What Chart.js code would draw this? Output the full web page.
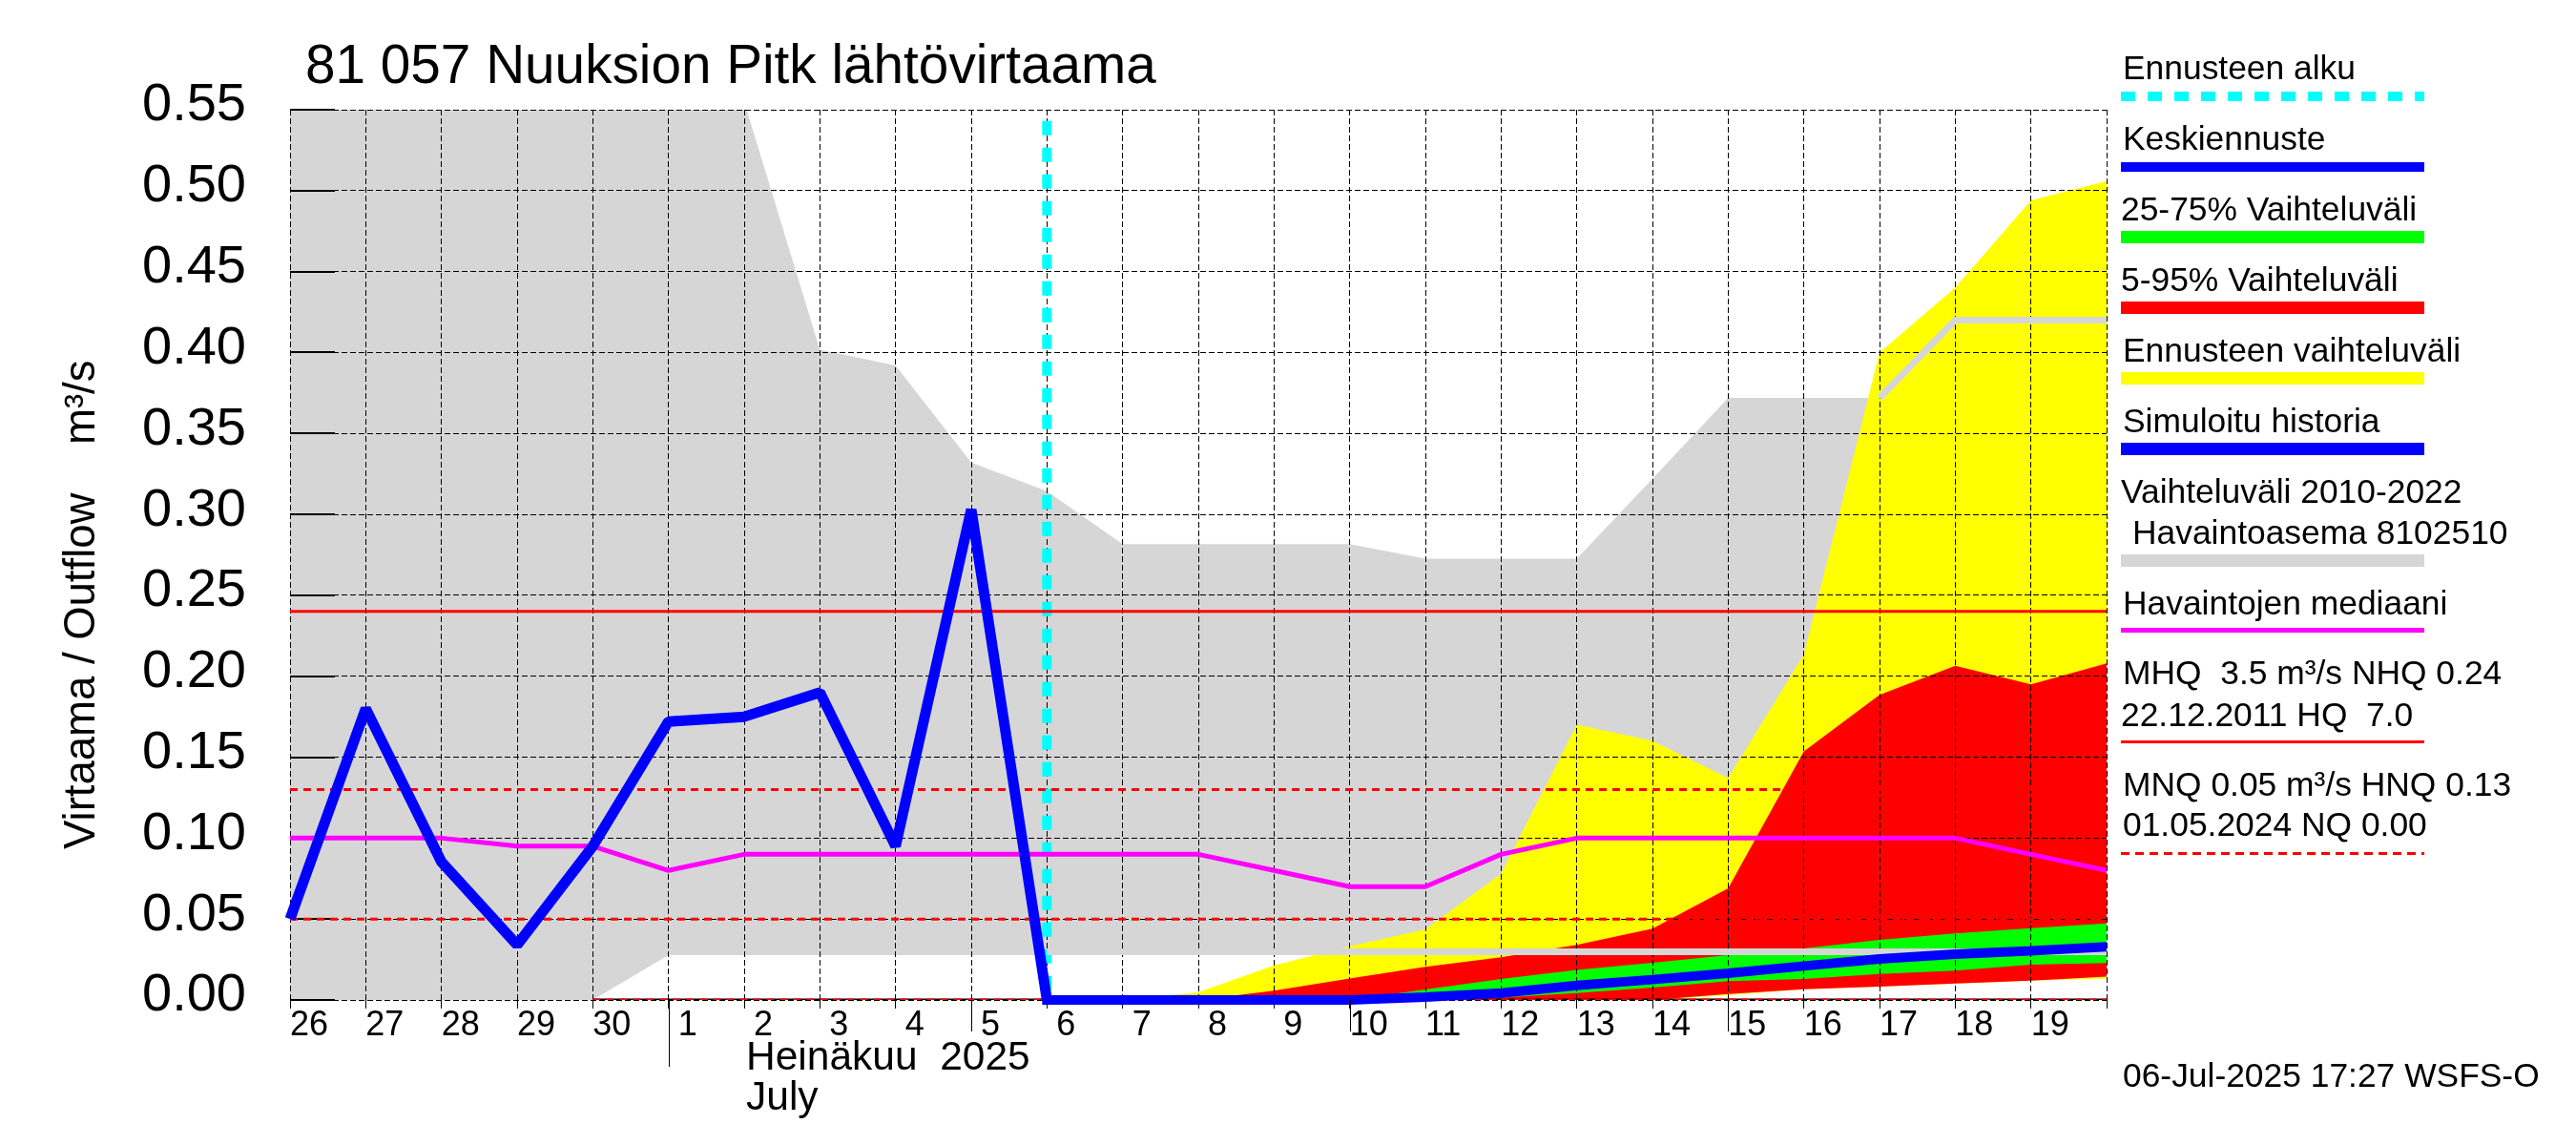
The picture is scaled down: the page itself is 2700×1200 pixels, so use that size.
<!DOCTYPE html>
<html><head><meta charset="utf-8">
<style>html,body{margin:0;padding:0;background:#fff}canvas{display:block}</style>
<script src="https://cdn.jsdelivr.net/npm/chart.js@4"></script>
</head><body><canvas id="c" width="2700" height="1200" style="width:2700px;height:1200px"></canvas>
<script>
const days=['26','27','28','29','30','1','2','3','4','5','6','7','8','9','10','11','12','13','14','15','16','17','18','19',''];
const yTicks=[0,0.05,0.10,0.15,0.20,0.25,0.30,0.35,0.40,0.45,0.50,0.55];
const titleText='81 057 Nuuksion Pitk lähtövirtaama';
const yTitle='Virtaama / Outflow    m³/s';
const monthLines=['Heinäkuu  2025','July'];
const stamp='06-Jul-2025 17:27 WSFS-O';
const rangeUpper=[.56,.56,.56,.56,.56,.56,.555,.4017,.392,.332,.3143,.2817,.2817,.2817,.2817,.2727,.2727,.2727,.322,.372,.372,.372,.42,.42,.42];
const rangeLower=[0,0,0,0,0,.0277,.0277,.0277,.0277,.0277,.0277,.0277,.0277,.0277,.0277,.0277,.0277,.0277,.0277,.0277,.0277,.0277,.0277,.0277,.0277];
const rangeUpperEdge=[null,null,null,null,null,null,null,null,null,null,null,null,null,null,null,null,null,null,null,null,null,.372,.42,.42,.42];
const rangeLowerEdge=[null,null,null,null,null,null,null,null,null,null,.0298,.0298,.0298,.0298,.0298,.0298,.0298,.0298,.0298,.0298,.0298,.0298,.0298,.0298,.0298];
const yellowUpper=[null,null,null,null,null,null,null,null,null,null,null,0,.0047,.0214,.0332,.0436,.078,.170,.160,.137,.2134,.40,.44,.494,.506];
const yellowLower=[null,null,null,null,null,null,null,null,null,null,null,0,0,0,0,0,0,0,0,.003,.0067,.0083,.0102,.012,.0132];
const redUpper=[null,null,null,null,null,null,null,null,null,null,null,null,0,.0057,.0132,.0205,.0264,.034,.044,.069,.1535,.1885,.2065,.195,.208];
const redLower=[null,null,null,null,null,null,null,null,null,null,null,null,0,0,0,0,0,0,0,.0037,.0067,.0083,.0102,.012,.0145];
const greenUpper=[null,null,null,null,null,null,null,null,null,null,null,null,null,null,0,.0065,.013,.0185,.023,.0277,.0318,.0371,.0411,.0444,.0473];
const greenLower=[null,null,null,null,null,null,null,null,null,null,null,null,null,null,0,0,.0015,.0043,.0077,.0116,.013,.016,.0181,.0218,.0228];
const history=[.05,.18,.0853,.034,.095,.172,.175,.19,.095,.303,0,null,null,null,null,null,null,null,null,null,null,null,null,null,null];
const forecast=[null,null,null,null,null,null,null,null,null,null,0,0,0,0,0,.0018,.0043,.009,.0126,.0165,.021,.0254,.0283,.0303,.0328];
const median=[.10,.10,.10,.095,.095,.08,.09,.09,.09,.09,.09,.09,.09,.08,.07,.07,.09,.10,.10,.10,.10,.10,.10,.09,.08];
const legendRows=[
 {lines:[['Ennusteen alku',2225,83]],color:'#00ffff',y:96,h:10,dash:[15,13]},
 {lines:[['Keskiennuste',2225,157]],color:'#0000ff',y:170,h:10},
 {lines:[['25-75% Vaihteluväli',2223,231]],color:'#00ff00',y:242,h:13},
 {lines:[['5-95% Vaihteluväli',2223,305]],color:'#ff0000',y:316,h:13},
 {lines:[['Ennusteen vaihteluväli',2225,379]],color:'#ffff00',y:390,h:13},
 {lines:[['Simuloitu historia',2225,453]],color:'#0000ff',y:464,h:13},
 {lines:[['Vaihteluväli 2010-2022',2223,527],['Havaintoasema 8102510',2235,570]],color:'#d6d6d6',y:581,h:13},
 {lines:[['Havaintojen mediaani',2225,644]],color:'#ff00ff',y:658,h:5},
 {lines:[['MHQ  3.5 m³/s NHQ 0.24',2225,717],['22.12.2011 HQ  7.0',2223,761]],color:'#ff0000',y:776,h:3},
 {lines:[['MNQ 0.05 m³/s HNQ 0.13',2225,834],['01.05.2024 NQ 0.00',2225,876]],color:'#ff0000',y:893,h:3,dash:[9,6]}
];
const FONT='"Liberation Sans"';
const gap=ds=>Object.assign({pointRadius:0,pointHitRadius:0,borderWidth:0,tension:0,spanGaps:false},ds);
const datasets=[
 gap({label:'Vaihteluväli 2010-2022',data:rangeUpper,fill:{target:1},backgroundColor:'#d6d6d6'}),
 gap({label:'rangeLower',data:rangeLower}),
 gap({label:'Ennusteen vaihteluväli',data:yellowUpper,fill:{target:3},backgroundColor:'#ffff00'}),
 gap({label:'yellowLower',data:yellowLower}),
 gap({label:'5-95% Vaihteluväli',data:redUpper,fill:{target:5},backgroundColor:'#ff0000'}),
 gap({label:'redLower',data:redLower}),
 gap({label:'25-75% Vaihteluväli',data:greenUpper,fill:{target:7},backgroundColor:'#00ff00'}),
 gap({label:'greenLower',data:greenLower}),
 gap({label:'Ennusteen alku',data:[{x:'6',y:.543},{x:'6',y:0}],borderColor:'#00ffff',borderWidth:10,borderDash:[15,13]}),
 gap({label:'rangeUpperEdge',data:rangeUpperEdge,borderColor:'#d6d6d6',borderWidth:7,clip:{left:0,top:0,right:0,bottom:0}}),
 gap({label:'rangeLowerEdge',data:rangeLowerEdge,borderColor:'#d6d6d6',borderWidth:7,clip:{left:0,top:0,right:0,bottom:0}}),
 gap({label:'NQ base',data:[{x:'30',y:0},{x:'',y:0}],borderColor:'#000',borderWidth:3}),
 gap({label:'NQ',data:[{x:'30',y:0},{x:'',y:0}],borderColor:'#ff0000',borderWidth:3,borderDash:[8,6]}),
 gap({label:'MNQ',data:[{x:'26',y:.05},{x:'',y:.05}],borderColor:'#ff0000',borderWidth:3,borderDash:[8,6]}),
 gap({label:'HNQ',data:[{x:'26',y:.13},{x:'',y:.13}],borderColor:'#ff0000',borderWidth:3,borderDash:[8,6]}),
 gap({label:'NHQ',data:[{x:'26',y:.24},{x:'',y:.24}],borderColor:'#ff0000',borderWidth:3}),
 gap({label:'Havaintojen mediaani',data:median,borderColor:'#ff00ff',borderWidth:5,borderJoinStyle:'bevel'}),
 gap({label:'Simuloitu historia',data:history,borderColor:'#0000ff',borderWidth:11,borderJoinStyle:'bevel'}),
 gap({label:'Keskiennuste',data:forecast,borderColor:'#0000ff',borderWidth:10,borderCapStyle:'square',borderJoinStyle:'bevel',clip:{left:8,top:0,right:0,bottom:8}})
];
datasets.forEach((d,i)=>{d.order=datasets.length-i;});

const layering={id:'layering',
 beforeDatasetDraw(chart,args){
  if(chart.data.datasets[args.index].label!=='Ennusteen alku')return;
  const {x,y}=chart.scales, a=chart.chartArea, ctx=chart.ctx;
  x.drawGrid(a); y.drawGrid(a);
  ctx.save();ctx.strokeStyle='#000';ctx.lineWidth=2;
  y.ticks.forEach((t,i)=>{const p=Math.round(y.getPixelForTick(i));ctx.beginPath();ctx.moveTo(a.left,p);ctx.lineTo(a.left+47,p);ctx.stroke();});
  ctx.restore();
 }};
const annotate={id:'annotate',
 afterDraw(chart){
  const ctx=chart.ctx,{x,y}=chart.scales,a=chart.chartArea;
  ctx.save();
  ctx.fillStyle='#000';ctx.textAlign='left';ctx.textBaseline='alphabetic';
  ctx.font='56.7px '+FONT;ctx.fillText(titleText,320,87);
  ctx.save();ctx.translate(99,890);ctx.rotate(-Math.PI/2);ctx.font='45.5px '+FONT;ctx.fillText(yTitle,0,0);ctx.restore();
  ctx.font='42.5px '+FONT;
  const mx=x.getPixelForValue(6)+2;
  ctx.fillText(monthLines[0],mx,1121);ctx.fillText(monthLines[1],mx,1163);
  ctx.strokeStyle='#000';ctx.lineWidth=1;
  [['1',1118],['5',1081],['10',1081],['15',1081]].forEach(([d,end])=>{
    const p=Math.round(x.getPixelForValue(days.indexOf(d)))+.5;
    ctx.beginPath();ctx.moveTo(p,a.bottom);ctx.lineTo(p,end);ctx.stroke();});
  ctx.font='35.4px '+FONT;
  legendRows.forEach(r=>{
    r.lines.forEach(l=>ctx.fillText(l[0],l[1],l[2]));
    ctx.save();ctx.strokeStyle=r.color;ctx.lineWidth=r.h;ctx.setLineDash(r.dash||[]);
    ctx.beginPath();ctx.moveTo(2223,r.y+r.h/2);ctx.lineTo(2541,r.y+r.h/2);ctx.stroke();ctx.restore();
  });
  ctx.fillText(stamp,2225,1139);
  ctx.restore();
 }};

new Chart(document.getElementById('c'),{
 type:'line',
 data:{labels:days,datasets},
 plugins:[layering,annotate],
 options:{
  responsive:false,animation:false,devicePixelRatio:1,
  events:[],
  layout:{padding:{left:0,top:115,right:492,bottom:52}},
  plugins:{legend:{display:false},tooltip:{enabled:false},title:{display:false},filler:{propagate:false}},
  scales:{
   x:{type:'category',offset:false,
      afterFit(s){s.height=100;},
      border:{display:false,dash:[6,3]},
      grid:{color:'#000',lineWidth:1,tickLength:9,tickColor:'#000',tickWidth:1,tickBorderDash:[],drawTicks:true},
      ticks:{color:'#000',font:{family:FONT,size:36},align:'start',maxRotation:0,minRotation:0,autoSkip:false,padding:-4,
        callback(v){const t=this.getLabelForValue(v);return t.length===1?' '+t:t;}}
   },
   y:{type:'linear',min:0,max:.55,
      afterFit(s){s.width=304;},
      afterBuildTicks(s){s.ticks=yTicks.map(v=>({value:v}));},
      border:{display:false,dash:[6,3]},
      grid:{color:'#000',lineWidth:1,drawTicks:false},
      ticks:{color:'#000',font:{family:FONT,size:56,lineHeight:8/56},padding:46,
        callback(v){return [v.toFixed(2),''];}}
   }
  }
 }
});
</script></body></html>
